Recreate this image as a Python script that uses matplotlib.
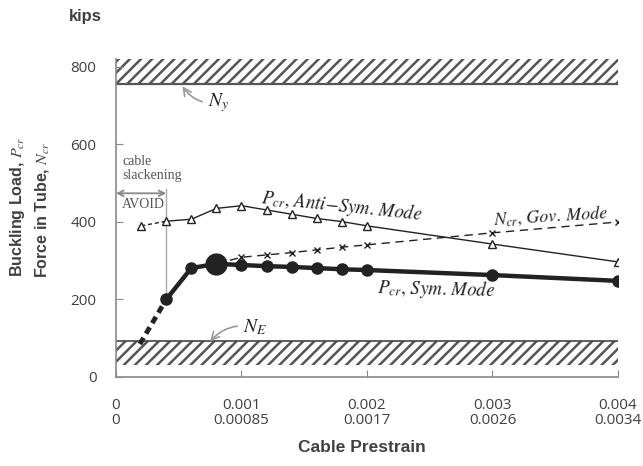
import matplotlib
matplotlib.use("Agg")
import matplotlib.pyplot as plt
import numpy as np

# ---- data ----
sym_x = [0.0004, 0.0006, 0.0008, 0.0010, 0.0012, 0.0014, 0.0016, 0.0018, 0.0020, 0.0030, 0.0040]
sym_y = [200, 281, 292, 289, 286, 284, 281, 278, 276, 263, 248]
sym_dash_x = [0.00019, 0.0004]
sym_dash_y = [85, 200]
peak_x = [0.0008]
peak_y = [292]

anti_x = [0.0004, 0.0006, 0.0008, 0.0010, 0.0012, 0.0014, 0.0016, 0.0018, 0.0020, 0.0030, 0.0040]
anti_y = [402, 407, 435, 442, 431, 420, 409, 401, 390, 343, 297]
anti_dash_x = [0.0002, 0.0004]
anti_dash_y = [390, 402]

gov_x = [0.0010, 0.0012, 0.0014, 0.0016, 0.0018, 0.0020, 0.0030, 0.0040]
gov_y = [309, 315, 321, 328, 335, 341, 372, 400]
gov_start_x = [0.0008]
gov_start_y = [292]

Ny = 757
Ny_top = 822
NE = 92
NE_bottom = 32

xticks = [0, 0.001, 0.002, 0.003, 0.004]
xtick_labels = ["0\n0", "0.001\n0.00085", "0.002\n0.0017", "0.003\n0.0026", "0.004\n0.0034"]
yticks = [0, 200, 400, 600, 800]

# ---- style ----
plt.rcParams['font.family'] = ['Open Sans', 'DejaVu Sans']
plt.rcParams['mathtext.fontset'] = 'stix'
plt.rcParams['hatch.linewidth'] = 1.8
plt.rcParams['hatch.color'] = '#555555'
txt = '#404040'
ax_col = '#8a8a8a'
line_col = '#222222'
serif = ['Liberation Serif', 'DejaVu Serif']

fig = plt.figure(figsize=(6.43, 4.66), dpi=100)
ax = fig.add_axes([116/643, 1 - 377/466, 502/643, 317.8/466])
ax.set_xlim(0, 0.004)
ax.set_ylim(0, 820)

# hatched bands
ax.fill_between([0, 0.004], Ny, Ny_top, facecolor='white', hatch='///', edgecolor='#555555', linewidth=0, zorder=1)
ax.fill_between([0, 0.004], NE_bottom, NE, facecolor='white', hatch='///', edgecolor='#555555', linewidth=0, zorder=1)
ax.axhline(Ny, color='#555555', lw=1.6, zorder=2)
ax.axhline(NE, color='#444444', lw=1.2, zorder=2)

# guide line and arrow for slackening
ax.plot([0.0004, 0.0004], [200, 485], color='#aaaaaa', lw=1.0, zorder=2)
ax.annotate('', xy=(0.0, 474), xytext=(0.0004, 474),
            arrowprops=dict(arrowstyle='<->', color='#888888', lw=1.3, shrinkA=0, shrinkB=0))
ax.text(0.00005, 572, 'cable\nslackening', fontsize=10, color='#555555', family=serif,
        va='top', ha='left', linespacing=1.1)
ax.text(0.00005, 444, 'AVOID', fontsize=10, color='#555555', family=serif, va='center', ha='left')

# series
ax.plot(sym_dash_x, sym_dash_y, color=line_col, lw=3.5, ls=(0, (1.5, 1)), zorder=4)
ax.plot(sym_x, sym_y, color=line_col, lw=3.2, marker='o', ms=8, zorder=5)
ax.plot(peak_x, peak_y, color=line_col, marker='o', ms=15, ls='none', zorder=6)

ax.plot(anti_dash_x, anti_dash_y, color=line_col, lw=1.0, ls=(0, (3, 2)), zorder=4)
ax.plot(anti_dash_x[:1], anti_dash_y[:1], color=line_col, marker='^', ms=6, mfc='white', ls='none', zorder=5)
ax.plot(anti_x, anti_y, color=line_col, lw=1.0, marker='^', ms=6, mfc='white', mew=1.0, zorder=5)

ax.plot(gov_start_x + gov_x, gov_start_y + gov_y, color=line_col, lw=1.0, ls=(0, (6, 4)), zorder=4)
ax.plot(gov_x, gov_y, color=line_col, marker='x', ms=5, mew=1.0, ls='none', zorder=5)

# labels on series
ax.text(0.00115, 449, r'$P_{cr},\,Anti{-}Sym.\,Mode$', fontsize=13.5, color=line_col,
        rotation=-6, rotation_mode='anchor', ha='left', va='baseline', zorder=7)
ax.text(0.00301, 394, r'$N_{cr},\,Gov.\,Mode$', fontsize=13, color=line_col,
        rotation=3.5, rotation_mode='anchor', ha='left', va='baseline')
ax.text(0.00208, 217, r'$P_{cr},\,Sym.\,Mode$', fontsize=13.5, color=line_col,
        rotation=-1.5, rotation_mode='anchor', ha='left', va='baseline')

# N_y, N_E annotations
ax.annotate(r'$N_y$', xy=(0.00053, 750), xytext=(0.00073, 707), fontsize=14, color=line_col,
            va='center', ha='left',
            arrowprops=dict(arrowstyle='->', color='#999999', lw=1.2,
                            connectionstyle='arc3,rad=-0.3', shrinkA=2, shrinkB=0))
ax.annotate(r'$N_E$', xy=(0.00075, 92), xytext=(0.00101, 128), fontsize=14, color=line_col,
            va='center', ha='left',
            arrowprops=dict(arrowstyle='->', color='#999999', lw=1.2,
                            connectionstyle='arc3,rad=0.3', shrinkA=2, shrinkB=0))

# axes styling
for s in ['top', 'right']:
    ax.spines[s].set_visible(False)
for s in ['left', 'bottom']:
    ax.spines[s].set_color(ax_col)
    ax.spines[s].set_linewidth(1.2)
ax.set_xticks(xticks)
ax.set_xticklabels(xtick_labels)
ax.set_yticks(yticks)
ax.tick_params(axis='both', direction='in', length=5, color=ax_col, labelcolor=txt, labelsize=11)
ax.tick_params(axis='x', pad=15)
ax.tick_params(axis='y', pad=14)
for lab in ax.get_xticklabels():
    lab.set_linespacing(1.05)

fig.text(85/643, 1 - 17/466, 'kips', fontsize=12, fontweight='bold', color=txt,
         family=['Liberation Sans'], ha='center', va='center')
fig.text(362/643, 1 - 447/466, 'Cable Prestrain', fontsize=12.5, fontweight='bold', color=txt,
         family=['Liberation Sans'], ha='center', va='center')
fig.text(18/643, 1 - 207/466, r'Buckling Load, $\mathit{P}_{\mathit{cr}}$', fontsize=11.5, fontweight='bold',
         color=txt, family=['Liberation Sans'], rotation=90, ha='center', va='center')
fig.text(42/643, 1 - 210/466, r'Force in Tube, $\mathit{N}_{\mathit{cr}}$', fontsize=11.5, fontweight='bold',
         color=txt, family=['Liberation Sans'], rotation=90, ha='center', va='center')

fig.savefig('out.png', dpi=100)
